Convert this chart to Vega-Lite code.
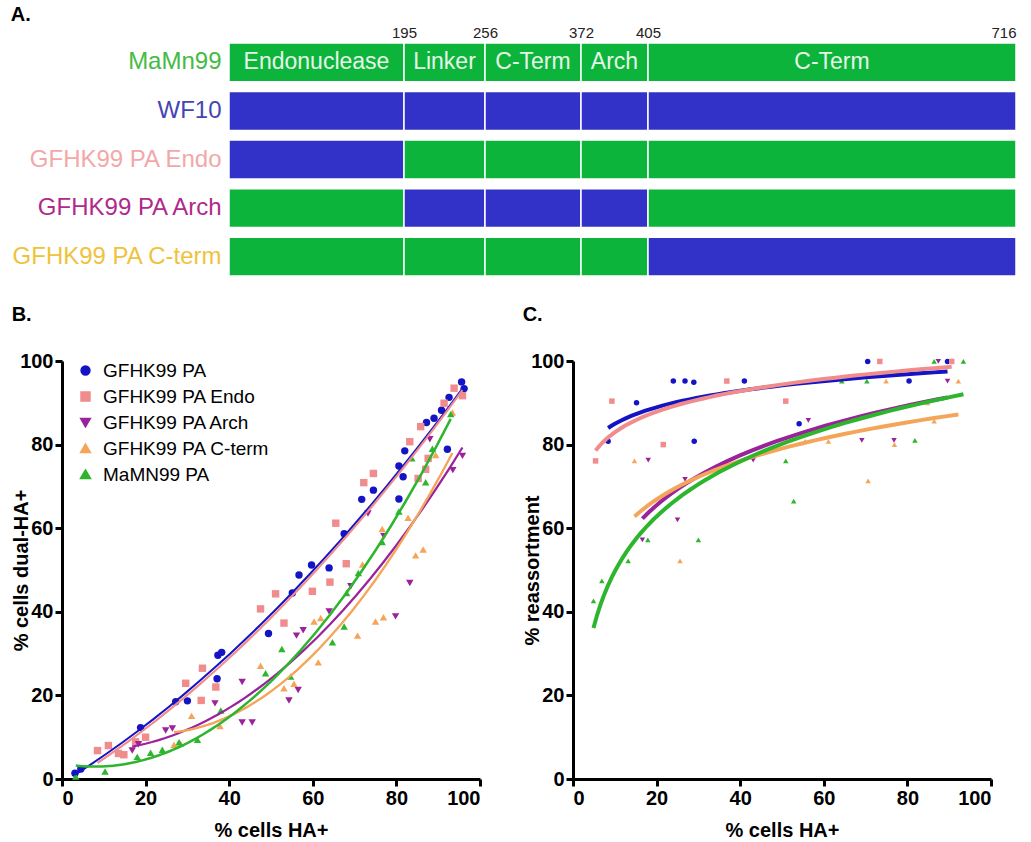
{
  "$schema": "https://vega.github.io/schema/vega-lite/v6.json",
  "padding": {"left": 10, "top": 5, "right": 5, "bottom": 5},
  "background": "white",
  "config": {
    "view": {"stroke": null},
    "font": "Liberation Sans",
    "axis": {"domainColor": "black", "domainWidth": 3, "tickColor": "black", "tickWidth": 3, "tickSize": 7, "labelFontSize": 20, "labelFontWeight": "bold", "labelColor": "black", "titleFontSize": 20, "titleFontWeight": "bold", "titleColor": "black", "grid": false, "labelPadding": 2},
    "title": {"font": "Liberation Sans", "fontSize": 20, "fontWeight": "bold", "anchor": "start", "frame": "bounds", "color": "black"}
  },
  "datasets": {
    "segments": [
      {"row": "MaMn99", "start": 0, "end": 195, "strain": "MaMN99", "label": "Endonuclease"},
      {"row": "MaMn99", "start": 195, "end": 256, "strain": "MaMN99", "label": "Linker"},
      {"row": "MaMn99", "start": 256, "end": 372, "strain": "MaMN99", "label": "C-Term"},
      {"row": "MaMn99", "start": 372, "end": 405, "strain": "MaMN99", "label": "Arch"},
      {"row": "MaMn99", "start": 405, "end": 716, "strain": "MaMN99", "label": "C-Term"},
      {"row": "WF10", "start": 0, "end": 195, "strain": "WF10"},
      {"row": "WF10", "start": 195, "end": 256, "strain": "WF10"},
      {"row": "WF10", "start": 256, "end": 372, "strain": "WF10"},
      {"row": "WF10", "start": 372, "end": 405, "strain": "WF10"},
      {"row": "WF10", "start": 405, "end": 716, "strain": "WF10"},
      {"row": "GFHK99 PA Endo", "start": 0, "end": 195, "strain": "WF10"},
      {"row": "GFHK99 PA Endo", "start": 195, "end": 256, "strain": "MaMN99"},
      {"row": "GFHK99 PA Endo", "start": 256, "end": 372, "strain": "MaMN99"},
      {"row": "GFHK99 PA Endo", "start": 372, "end": 405, "strain": "MaMN99"},
      {"row": "GFHK99 PA Endo", "start": 405, "end": 716, "strain": "MaMN99"},
      {"row": "GFHK99 PA Arch", "start": 0, "end": 195, "strain": "MaMN99"},
      {"row": "GFHK99 PA Arch", "start": 195, "end": 256, "strain": "WF10"},
      {"row": "GFHK99 PA Arch", "start": 256, "end": 372, "strain": "WF10"},
      {"row": "GFHK99 PA Arch", "start": 372, "end": 405, "strain": "WF10"},
      {"row": "GFHK99 PA Arch", "start": 405, "end": 716, "strain": "MaMN99"},
      {"row": "GFHK99 PA C-term", "start": 0, "end": 195, "strain": "MaMN99"},
      {"row": "GFHK99 PA C-term", "start": 195, "end": 256, "strain": "MaMN99"},
      {"row": "GFHK99 PA C-term", "start": 256, "end": 372, "strain": "MaMN99"},
      {"row": "GFHK99 PA C-term", "start": 372, "end": 405, "strain": "MaMN99"},
      {"row": "GFHK99 PA C-term", "start": 405, "end": 716, "strain": "WF10"}
    ],
    "dual": [
      {"series": "GFHK99 PA", "x": 3.1, "y": 1.4}, {"series": "GFHK99 PA", "x": 4.5, "y": 2.4}, {"series": "GFHK99 PA", "x": 18.8, "y": 12.3}, {"series": "GFHK99 PA", "x": 27.2, "y": 18.5}, {"series": "GFHK99 PA", "x": 30, "y": 18.7}, {"series": "GFHK99 PA", "x": 37.1, "y": 24}, {"series": "GFHK99 PA", "x": 37.3, "y": 29.6}, {"series": "GFHK99 PA", "x": 38.2, "y": 30.3}, {"series": "GFHK99 PA", "x": 49.4, "y": 34.8}, {"series": "GFHK99 PA", "x": 55.1, "y": 44.5}, {"series": "GFHK99 PA", "x": 56.7, "y": 48.8}, {"series": "GFHK99 PA", "x": 59.7, "y": 51.2}, {"series": "GFHK99 PA", "x": 63.9, "y": 50.5}, {"series": "GFHK99 PA", "x": 67.5, "y": 58.7}, {"series": "GFHK99 PA", "x": 71.7, "y": 66.9}, {"series": "GFHK99 PA", "x": 74.5, "y": 69.1}, {"series": "GFHK99 PA", "x": 80.6, "y": 74.9}, {"series": "GFHK99 PA", "x": 81.6, "y": 72.3}, {"series": "GFHK99 PA", "x": 80.6, "y": 67}, {"series": "GFHK99 PA", "x": 82, "y": 78.5}, {"series": "GFHK99 PA", "x": 87.2, "y": 85.3}, {"series": "GFHK99 PA", "x": 89, "y": 86.3}, {"series": "GFHK99 PA", "x": 90.8, "y": 88.2}, {"series": "GFHK99 PA", "x": 92.6, "y": 91.3}, {"series": "GFHK99 PA", "x": 92.2, "y": 78.9}, {"series": "GFHK99 PA", "x": 95.6, "y": 95}, {"series": "GFHK99 PA", "x": 96.2, "y": 93.4},
      {"series": "GFHK99 PA Endo", "x": 8.5, "y": 6.8}, {"series": "GFHK99 PA Endo", "x": 11.1, "y": 8}, {"series": "GFHK99 PA Endo", "x": 13.5, "y": 6.1}, {"series": "GFHK99 PA Endo", "x": 14.8, "y": 5.8}, {"series": "GFHK99 PA Endo", "x": 17.6, "y": 8.9}, {"series": "GFHK99 PA Endo", "x": 20, "y": 10}, {"series": "GFHK99 PA Endo", "x": 29.6, "y": 22.9}, {"series": "GFHK99 PA Endo", "x": 33.6, "y": 26.5}, {"series": "GFHK99 PA Endo", "x": 33.3, "y": 18.8}, {"series": "GFHK99 PA Endo", "x": 36.8, "y": 22}, {"series": "GFHK99 PA Endo", "x": 47.5, "y": 40.7}, {"series": "GFHK99 PA Endo", "x": 51.1, "y": 44.3}, {"series": "GFHK99 PA Endo", "x": 53.1, "y": 37.3}, {"series": "GFHK99 PA Endo", "x": 59.9, "y": 44.9}, {"series": "GFHK99 PA Endo", "x": 64.1, "y": 47.1}, {"series": "GFHK99 PA Endo", "x": 68, "y": 51.5}, {"series": "GFHK99 PA Endo", "x": 65.5, "y": 61.2}, {"series": "GFHK99 PA Endo", "x": 72.2, "y": 70.9}, {"series": "GFHK99 PA Endo", "x": 74.5, "y": 73.1}, {"series": "GFHK99 PA Endo", "x": 83.2, "y": 80.7}, {"series": "GFHK99 PA Endo", "x": 85.8, "y": 84.3}, {"series": "GFHK99 PA Endo", "x": 87, "y": 74.1}, {"series": "GFHK99 PA Endo", "x": 87.6, "y": 76.7}, {"series": "GFHK99 PA Endo", "x": 85.2, "y": 71.9}, {"series": "GFHK99 PA Endo", "x": 91.4, "y": 89.9}, {"series": "GFHK99 PA Endo", "x": 93.8, "y": 93.5}, {"series": "GFHK99 PA Endo", "x": 95.8, "y": 91.7},
      {"series": "GFHK99 PA Arch", "x": 16.8, "y": 6.8}, {"series": "GFHK99 PA Arch", "x": 18.3, "y": 8.3}, {"series": "GFHK99 PA Arch", "x": 24.8, "y": 11.6}, {"series": "GFHK99 PA Arch", "x": 26.4, "y": 12.1}, {"series": "GFHK99 PA Arch", "x": 36.6, "y": 18.1}, {"series": "GFHK99 PA Arch", "x": 43.1, "y": 23.2}, {"series": "GFHK99 PA Arch", "x": 43.1, "y": 13.5}, {"series": "GFHK99 PA Arch", "x": 45.5, "y": 13.5}, {"series": "GFHK99 PA Arch", "x": 54.3, "y": 18.8}, {"series": "GFHK99 PA Arch", "x": 56.5, "y": 21.3}, {"series": "GFHK99 PA Arch", "x": 56.1, "y": 34.3}, {"series": "GFHK99 PA Arch", "x": 57.7, "y": 35.6}, {"series": "GFHK99 PA Arch", "x": 63.9, "y": 40.1}, {"series": "GFHK99 PA Arch", "x": 69.1, "y": 46.1}, {"series": "GFHK99 PA Arch", "x": 79.8, "y": 38.9}, {"series": "GFHK99 PA Arch", "x": 83.2, "y": 46.9}, {"series": "GFHK99 PA Arch", "x": 73.2, "y": 63.5}, {"series": "GFHK99 PA Arch", "x": 77, "y": 58.1}, {"series": "GFHK99 PA Arch", "x": 88, "y": 81.3}, {"series": "GFHK99 PA Arch", "x": 93.5, "y": 73.9}, {"series": "GFHK99 PA Arch", "x": 95.8, "y": 77.3},
      {"series": "GFHK99 PA C-term", "x": 26.8, "y": 8.2}, {"series": "GFHK99 PA C-term", "x": 28.4, "y": 8.4}, {"series": "GFHK99 PA C-term", "x": 31, "y": 15.1}, {"series": "GFHK99 PA C-term", "x": 37.8, "y": 12.7}, {"series": "GFHK99 PA C-term", "x": 47.5, "y": 27.1}, {"series": "GFHK99 PA C-term", "x": 53.1, "y": 21.7}, {"series": "GFHK99 PA C-term", "x": 55.5, "y": 22.8}, {"series": "GFHK99 PA C-term", "x": 61.3, "y": 27.9}, {"series": "GFHK99 PA C-term", "x": 60.3, "y": 37.7}, {"series": "GFHK99 PA C-term", "x": 61.9, "y": 38.5}, {"series": "GFHK99 PA C-term", "x": 70.7, "y": 34.3}, {"series": "GFHK99 PA C-term", "x": 75, "y": 37.7}, {"series": "GFHK99 PA C-term", "x": 76.9, "y": 38.7}, {"series": "GFHK99 PA C-term", "x": 71.9, "y": 51.3}, {"series": "GFHK99 PA C-term", "x": 76.6, "y": 59.8}, {"series": "GFHK99 PA C-term", "x": 82.8, "y": 62.5}, {"series": "GFHK99 PA C-term", "x": 84.6, "y": 53.5}, {"series": "GFHK99 PA C-term", "x": 86.4, "y": 54.9}, {"series": "GFHK99 PA C-term", "x": 89.4, "y": 77.5}, {"series": "GFHK99 PA C-term", "x": 93.4, "y": 87.7},
      {"series": "MaMN99 PA", "x": 3.3, "y": 0.6}, {"series": "MaMN99 PA", "x": 10.3, "y": 1.8}, {"series": "MaMN99 PA", "x": 18, "y": 5.3}, {"series": "MaMN99 PA", "x": 21.2, "y": 6.3}, {"series": "MaMN99 PA", "x": 24, "y": 7}, {"series": "MaMN99 PA", "x": 28, "y": 8.8}, {"series": "MaMN99 PA", "x": 32.4, "y": 9.4}, {"series": "MaMN99 PA", "x": 38, "y": 16.4}, {"series": "MaMN99 PA", "x": 48.7, "y": 25.3}, {"series": "MaMN99 PA", "x": 52.6, "y": 31.1}, {"series": "MaMN99 PA", "x": 54.7, "y": 24.5}, {"series": "MaMN99 PA", "x": 64.7, "y": 32.7}, {"series": "MaMN99 PA", "x": 67.5, "y": 36.5}, {"series": "MaMN99 PA", "x": 68.1, "y": 44.5}, {"series": "MaMN99 PA", "x": 70.9, "y": 49.3}, {"series": "MaMN99 PA", "x": 76.6, "y": 56.7}, {"series": "MaMN99 PA", "x": 80.6, "y": 64}, {"series": "MaMN99 PA", "x": 83.7, "y": 76.7}, {"series": "MaMN99 PA", "x": 87, "y": 71}, {"series": "MaMN99 PA", "x": 88.6, "y": 79}, {"series": "MaMN99 PA", "x": 93, "y": 87.3}
    ],
    "reassort": [
      {"series": "GFHK99 PA", "x": 8.4, "y": 80.8}, {"series": "GFHK99 PA", "x": 15.2, "y": 90}, {"series": "GFHK99 PA", "x": 24, "y": 95.2}, {"series": "GFHK99 PA", "x": 26.8, "y": 95.2}, {"series": "GFHK99 PA", "x": 28.9, "y": 94.9}, {"series": "GFHK99 PA", "x": 29, "y": 80.8}, {"series": "GFHK99 PA", "x": 41, "y": 95.2}, {"series": "GFHK99 PA", "x": 54.1, "y": 85}, {"series": "GFHK99 PA", "x": 70.5, "y": 99.9}, {"series": "GFHK99 PA", "x": 80.4, "y": 95.2}, {"series": "GFHK99 PA", "x": 89.6, "y": 99.9},
      {"series": "GFHK99 PA Endo", "x": 5.4, "y": 76.1}, {"series": "GFHK99 PA Endo", "x": 9.3, "y": 90.4}, {"series": "GFHK99 PA Endo", "x": 21.6, "y": 80}, {"series": "GFHK99 PA Endo", "x": 36.8, "y": 95.2}, {"series": "GFHK99 PA Endo", "x": 50.9, "y": 90.4}, {"series": "GFHK99 PA Endo", "x": 73.4, "y": 99.9}, {"series": "GFHK99 PA Endo", "x": 90.6, "y": 99.9},
      {"series": "GFHK99 PA Arch", "x": 16.6, "y": 57.2}, {"series": "GFHK99 PA Arch", "x": 18, "y": 76.3}, {"series": "GFHK99 PA Arch", "x": 25, "y": 62}, {"series": "GFHK99 PA Arch", "x": 26.8, "y": 71.7}, {"series": "GFHK99 PA Arch", "x": 36.4, "y": 75.3}, {"series": "GFHK99 PA Arch", "x": 43.1, "y": 76.3}, {"series": "GFHK99 PA Arch", "x": 56.3, "y": 85.8}, {"series": "GFHK99 PA Arch", "x": 63.7, "y": 85}, {"series": "GFHK99 PA Arch", "x": 69.1, "y": 81}, {"series": "GFHK99 PA Arch", "x": 76.8, "y": 81}, {"series": "GFHK99 PA Arch", "x": 87.4, "y": 99.9}, {"series": "GFHK99 PA Arch", "x": 89.6, "y": 95.2},
      {"series": "GFHK99 PA C-term", "x": 14.7, "y": 76.1}, {"series": "GFHK99 PA C-term", "x": 25.6, "y": 52.2}, {"series": "GFHK99 PA C-term", "x": 36.8, "y": 75.5}, {"series": "GFHK99 PA C-term", "x": 55.5, "y": 80.8}, {"series": "GFHK99 PA C-term", "x": 61.1, "y": 80.8}, {"series": "GFHK99 PA C-term", "x": 70.6, "y": 71.3}, {"series": "GFHK99 PA C-term", "x": 74.9, "y": 95.2}, {"series": "GFHK99 PA C-term", "x": 76.9, "y": 80}, {"series": "GFHK99 PA C-term", "x": 84.8, "y": 90}, {"series": "GFHK99 PA C-term", "x": 86.4, "y": 85.6}, {"series": "GFHK99 PA C-term", "x": 92.2, "y": 95.2},
      {"series": "MaMN99 PA", "x": 4.9, "y": 42.6}, {"series": "MaMN99 PA", "x": 6.9, "y": 47.4}, {"series": "MaMN99 PA", "x": 13.2, "y": 52.2}, {"series": "MaMN99 PA", "x": 17.9, "y": 57.2}, {"series": "MaMN99 PA", "x": 30, "y": 57.2}, {"series": "MaMN99 PA", "x": 50.9, "y": 76.1}, {"series": "MaMN99 PA", "x": 52.8, "y": 66.5}, {"series": "MaMN99 PA", "x": 64.3, "y": 95.2}, {"series": "MaMN99 PA", "x": 70.3, "y": 95.2}, {"series": "MaMN99 PA", "x": 81.8, "y": 81}, {"series": "MaMN99 PA", "x": 86.4, "y": 99.9}, {"series": "MaMN99 PA", "x": 93.4, "y": 99.9}
    ]
  },
  "resolve": {"scale": {"color": "independent", "shape": "independent", "strokeWidth": "independent"}, "legend": {"color": "independent", "shape": "independent"}},
  "spacing": 28,
  "vconcat": [
    {
      "width": 954,
      "height": 233,
      "title": {"text": "A.", "offset": 0},
      "data": {"name": "segments"},
      "layer": [
        {
          "mark": {"type": "bar", "stroke": "white", "strokeWidth": 1.5},
          "encoding": {
            "y": {"field": "row", "type": "nominal", "sort": ["MaMn99", "WF10", "GFHK99 PA Endo", "GFHK99 PA Arch", "GFHK99 PA C-term"], "scale": {"paddingInner": 0.2, "paddingOuter": 0}, "title": null,
              "axis": {"domain": false, "ticks": false, "offset": -167, "labelFontSize": 24, "labelFontWeight": "normal", "labelPadding": 8, "labelLimit": 400,
                "labelColor": {"expr": "datum.value == 'MaMn99' ? '#44bb44' : datum.value == 'WF10' ? '#4444b4' : datum.value == 'GFHK99 PA Endo' ? '#f2a8a8' : datum.value == 'GFHK99 PA Arch' ? '#b02a8c' : '#f0c23c'"}}},
            "x": {"field": "start", "type": "quantitative", "title": null,
              "scale": {"domain": [0, 195, 256, 372, 405, 716], "range": [167, 342, 423, 519, 586, 954], "nice": false, "zero": false},
              "axis": {"orient": "top", "values": [195, 256, 372, 405, 716], "domain": false, "ticks": false, "labelFontSize": 15, "labelFontWeight": "normal", "labelColor": "#222222", "labelPadding": 3}},
            "x2": {"field": "end"},
            "color": {"field": "strain", "type": "nominal", "scale": {"domain": ["MaMN99", "WF10"], "range": ["#0cb43c", "#3232c8"]}, "legend": null}
          }
        },
        {
          "transform": [{"filter": "datum.label"}, {"calculate": "(datum.start + datum.end) / 2", "as": "mid"}],
          "mark": {"type": "text", "color": "#e6f6e6", "fontSize": 23, "align": "center", "baseline": "middle"},
          "encoding": {
            "y": {"field": "row", "type": "nominal", "sort": ["MaMn99", "WF10", "GFHK99 PA Endo", "GFHK99 PA Arch", "GFHK99 PA C-term"]},
            "x": {"field": "mid", "type": "quantitative"},
            "text": {"field": "label"}
          }
        }
      ]
    },
    {
      "spacing": 40,
      "resolve": {"scale": {"color": "independent", "shape": "independent", "strokeWidth": "independent"}, "legend": {"color": "independent", "shape": "independent"}},
      "hconcat": [
        {
          "width": 418,
          "height": 418,
          "title": {"text": "B.", "offset": 26},
          "data": {"name": "dual"},
          "layer": [
            {
              "mark": {"type": "point", "filled": true, "opacity": 1, "size": 55},
              "encoding": {
                "x": {"field": "x", "type": "quantitative", "scale": {"domain": [0, 100], "nice": false}, "axis": {"values": [0, 20, 40, 60, 80, 100], "title": "% cells HA+", "titlePadding": 12}},
                "y": {"field": "y", "type": "quantitative", "scale": {"domain": [0, 100], "nice": false}, "axis": {"values": [0, 20, 40, 60, 80, 100], "title": "% cells dual-HA+", "titlePadding": -12}},
                "color": {"field": "series", "type": "nominal",
                  "scale": {"domain": ["GFHK99 PA", "GFHK99 PA Endo", "GFHK99 PA Arch", "GFHK99 PA C-term", "MaMN99 PA"], "range": ["#1414c4", "#f08c8c", "#9a229a", "#f5a55a", "#2db52d"]},
                  "legend": {"orient": "none", "legendX": 14, "legendY": 0, "title": null, "labelFontSize": 19, "labelFont": "Liberation Sans", "labelColor": "black", "labelLimit": 400, "symbolSize": 70, "rowPadding": 6, "padding": 0, "labelOffset": 8}},
                "shape": {"field": "series", "type": "nominal",
                  "scale": {"domain": ["GFHK99 PA", "GFHK99 PA Endo", "GFHK99 PA Arch", "GFHK99 PA C-term", "MaMN99 PA"], "range": ["circle", "square", "triangle-down", "triangle-up", "triangle-up"]},
                  "legend": {"orient": "none", "legendX": 14, "legendY": 0, "title": null, "labelFontSize": 19, "labelFont": "Liberation Sans", "labelColor": "black", "labelLimit": 400, "symbolSize": 70, "rowPadding": 6, "padding": 0, "labelOffset": 8}}
              }
            },
            {
              "transform": [{"regression": "y", "on": "x", "groupby": ["series"], "method": "poly", "order": 2}],
              "mark": {"type": "line"},
              "encoding": {
                "x": {"field": "x", "type": "quantitative"},
                "y": {"field": "y", "type": "quantitative"},
                "color": {"field": "series", "type": "nominal", "legend": null},
                "strokeWidth": {"field": "series", "type": "nominal", "scale": {"domain": ["GFHK99 PA", "GFHK99 PA Endo", "GFHK99 PA Arch", "GFHK99 PA C-term", "MaMN99 PA"], "range": [2, 2.5, 4, 3, 4]}, "legend": null}
              }
            }
          ]
        },
        {
          "width": 418,
          "height": 418,
          "title": {"text": "C.", "offset": 26},
          "data": {"name": "reassort"},
          "layer": [
            {
              "mark": {"type": "point", "filled": true, "opacity": 1, "size": 30},
              "encoding": {
                "x": {"field": "x", "type": "quantitative", "scale": {"domain": [0, 100], "nice": false}, "axis": {"values": [0, 20, 40, 60, 80, 100], "title": "% cells HA+", "titlePadding": 12}},
                "y": {"field": "y", "type": "quantitative", "scale": {"domain": [0, 100], "nice": false}, "axis": {"values": [0, 20, 40, 60, 80, 100], "title": "% reassortment", "titlePadding": -12}},
                "color": {"field": "series", "type": "nominal",
                  "scale": {"domain": ["GFHK99 PA", "GFHK99 PA Endo", "GFHK99 PA Arch", "GFHK99 PA C-term", "MaMN99 PA"], "range": ["#1414c4", "#f08c8c", "#9a229a", "#f5a55a", "#2db52d"]},
                  "legend": null},
                "shape": {"field": "series", "type": "nominal",
                  "scale": {"domain": ["GFHK99 PA", "GFHK99 PA Endo", "GFHK99 PA Arch", "GFHK99 PA C-term", "MaMN99 PA"], "range": ["circle", "square", "triangle-down", "triangle-up", "triangle-up"]},
                  "legend": null}
              }
            },
            {
              "transform": [{"regression": "y", "on": "x", "groupby": ["series"], "method": "log"}],
              "mark": {"type": "line", "strokeWidth": 4},
              "encoding": {
                "x": {"field": "x", "type": "quantitative"},
                "y": {"field": "y", "type": "quantitative"},
                "color": {"field": "series", "type": "nominal", "legend": null}
              }
            }
          ]
        }
      ]
    }
  ]
}
